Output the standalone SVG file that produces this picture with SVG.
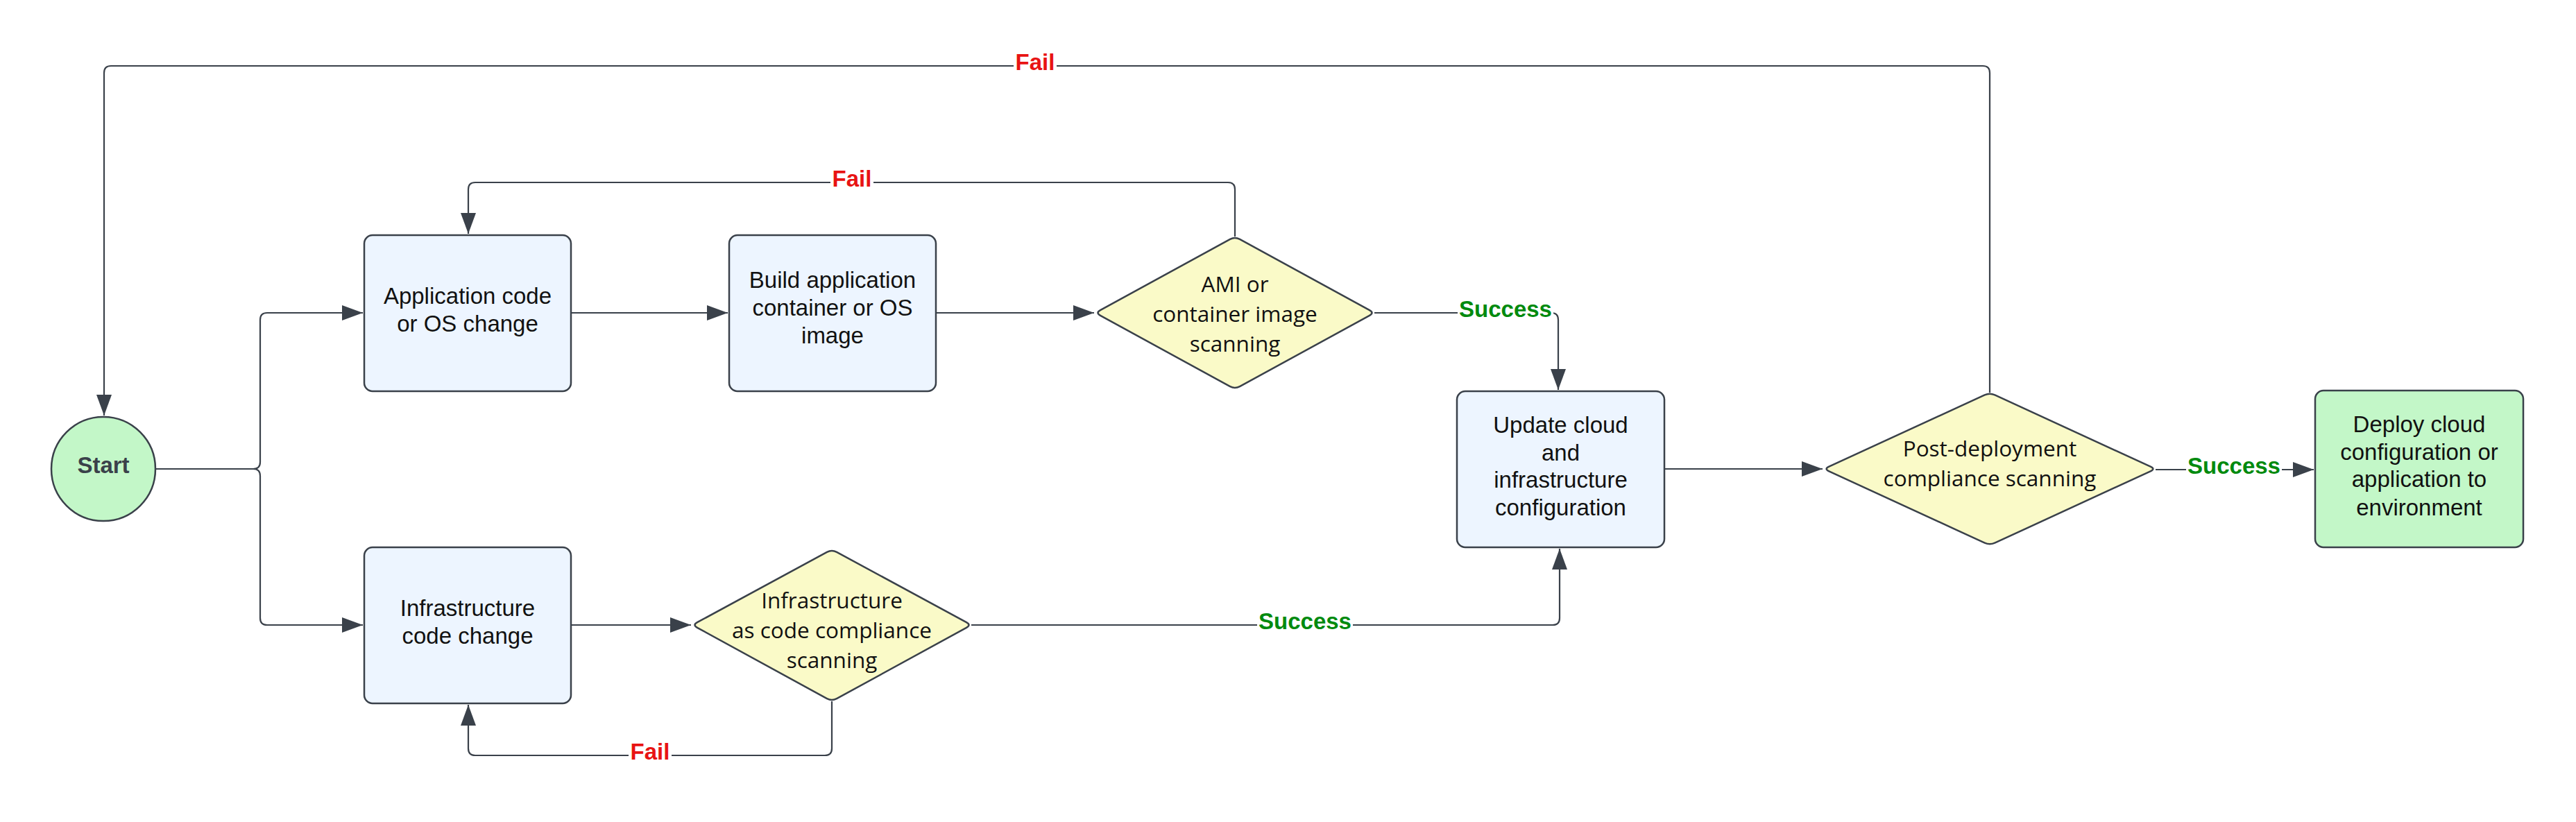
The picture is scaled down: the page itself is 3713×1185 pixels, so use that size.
<svg xmlns="http://www.w3.org/2000/svg" width="3713" height="1185" viewBox="0 0 3713 1185">
<defs>
<marker id="arr" markerUnits="userSpaceOnUse" markerWidth="32" markerHeight="24" refX="30" refY="11" orient="auto">
<path d="M0,0 L30,11 L0,22 Z" fill="#3a414a"/>
</marker>
<style>
.box{fill:#edf5ff;stroke:#3a414a;stroke-width:2.5}
.green{fill:#c3f7c8;stroke:#3a414a;stroke-width:2.5}
.dia{fill:#fafac8;stroke:#3a414a;stroke-width:2.5}
.t{font-family:"Liberation Sans",Arial,sans-serif;font-size:33px;fill:#111;text-anchor:middle}
.d{font-family:"Open Sans","Liberation Sans",sans-serif;font-size:31.5px;fill:#111;text-anchor:middle}
.c{fill:none;stroke:#3a414a;stroke-width:2.2}
.lbl{font-family:"Liberation Sans",Arial,sans-serif;font-size:33px;font-weight:bold;text-anchor:middle}
.fail{fill:#e81313}
.ok{fill:#008a0e}
.bg{fill:#fff}
</style>
</defs>
<rect width="3713" height="1185" fill="#fff"/>
<g id="connectors">
<path class="c" d="M224,676 H365 Q375,676 375,666 V461 Q375,451 385,451 H523" marker-end="url(#arr)"/>
<path class="c" d="M224,676 H365 Q375,676 375,686 V891 Q375,901 385,901 H523" marker-end="url(#arr)"/>
<path class="c" d="M823,451 H1049" marker-end="url(#arr)"/>
<path class="c" d="M1349,451 H1577" marker-end="url(#arr)"/>
<path class="c" d="M1780,341 V273 Q1780,263 1770,263 H685 Q675,263 675,273 V337" marker-end="url(#arr)"/>
<path class="c" d="M1981,451 H2236 Q2246,451 2246,461 V562" marker-end="url(#arr)"/>
<path class="c" d="M823,901 H996" marker-end="url(#arr)"/>
<path class="c" d="M1199,1011 V1079 Q1199,1089 1189,1089 H685 Q675,1089 675,1079 V1016" marker-end="url(#arr)"/>
<path class="c" d="M1400,901 H2238 Q2248,901 2248,891 V791" marker-end="url(#arr)"/>
<path class="c" d="M2399,676 H2627" marker-end="url(#arr)"/>
<path class="c" d="M2868,566 V105 Q2868,95 2858,95 H160 Q150,95 150,105 V599" marker-end="url(#arr)"/>
<path class="c" d="M3107,677 H3335" marker-end="url(#arr)"/>
<rect class="bg" x="1197" y="245" width="62" height="36"/>
<text class="lbl fail" x="1228" y="269">Fail</text>
<rect class="bg" x="1461" y="77" width="62" height="36"/>
<text class="lbl fail" x="1492" y="101">Fail</text>
<rect class="bg" x="906" y="1071" width="62" height="36"/>
<text class="lbl fail" x="937" y="1095">Fail</text>
<rect class="bg" x="2101" y="433" width="138" height="36"/>
<text class="lbl ok" x="2170" y="457">Success</text>
<rect class="bg" x="1812" y="883" width="138" height="36"/>
<text class="lbl ok" x="1881" y="907">Success</text>
<rect class="bg" x="3151" y="659" width="138" height="36"/>
<text class="lbl ok" x="3220" y="683">Success</text>
</g>
<g id="start">
<circle class="green" cx="149" cy="676" r="75"/>
<text class="lbl" x="149" y="682" fill="#3a414a">Start</text>
</g>
<g id="app-code">
<rect class="box" x="525" y="339" width="298" height="225" rx="12"/>
<text class="t" x="674" y="438">Application code</text>
<text class="t" x="674" y="478">or OS change</text>
</g>
<g id="build">
<rect class="box" x="1051" y="339" width="298" height="225" rx="12"/>
<text class="t" x="1200" y="415">Build application</text>
<text class="t" x="1200" y="455">container or OS</text>
<text class="t" x="1200" y="495">image</text>
</g>
<g id="ami-scan">
<path class="dia" d="M1586,447.2 L1773,344.8 Q1780,341 1787,344.8 L1974,447.2 Q1981,451 1974,454.8 L1787,557.2 Q1780,561 1773,557.2 L1586,454.8 Q1579,451 1586,447.2 Z"/>
<text class="d" x="1780" y="421">AMI or</text>
<text class="d" x="1780" y="464">container image</text>
<text class="d" x="1780" y="507">scanning</text>
</g>
<g id="infra-code">
<rect class="box" x="525" y="789" width="298" height="225" rx="12"/>
<text class="t" x="674" y="888">Infrastructure</text>
<text class="t" x="674" y="928">code change</text>
</g>
<g id="iac-scan">
<path class="dia" d="M1005,897.2 L1192,795.8 Q1199,792 1206,795.8 L1393,897.2 Q1400,901 1393,904.8 L1206,1007.2 Q1199,1011 1192,1007.2 L1005,904.8 Q998,901 1005,897.2 Z"/>
<text class="d" x="1199" y="877">Infrastructure</text>
<text class="d" x="1199" y="920">as code compliance</text>
<text class="d" x="1199" y="963">scanning</text>
</g>
<g id="update">
<rect class="box" x="2100" y="564" width="299" height="225" rx="12"/>
<text class="t" x="2249.5" y="624">Update cloud</text>
<text class="t" x="2249.5" y="664">and</text>
<text class="t" x="2249.5" y="703">infrastructure</text>
<text class="t" x="2249.5" y="743">configuration</text>
</g>
<g id="post-scan">
<path class="dia" d="M2636.3,672.7 L2860.7,569.3 Q2868,566 2875.3,569.3 L3099.7,672.7 Q3107,676 3099.7,679.3 L2875.3,782.7 Q2868,786 2860.7,782.7 L2636.3,679.3 Q2629,676 2636.3,672.7 Z"/>
<text class="d" x="2868" y="658">Post-deployment</text>
<text class="d" x="2868" y="701">compliance scanning</text>
</g>
<g id="deploy">
<rect class="green" x="3337" y="563" width="300" height="226" rx="12"/>
<text class="t" x="3487" y="623">Deploy cloud</text>
<text class="t" x="3487" y="663">configuration or</text>
<text class="t" x="3487" y="702">application to</text>
<text class="t" x="3487" y="743">environment</text>
</g>
</svg>
